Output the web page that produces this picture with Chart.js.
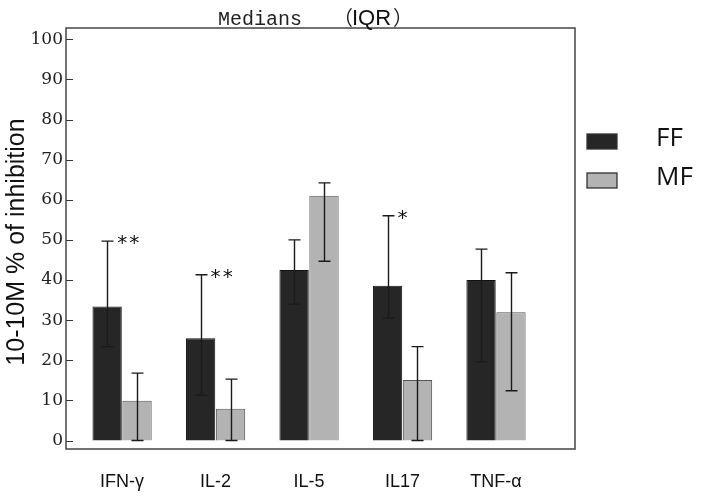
<!DOCTYPE html>
<html>
<head>
<meta charset="utf-8">
<script src="https://cdn.jsdelivr.net/npm/chart.js@4/dist/chart.umd.min.js"></script>
<style>
  body { margin: 0; background: #fff; }
  #wrap { width: 702px; height: 500px; position: relative; }
</style>
</head>
<body>
<div id="wrap"><canvas id="chart"></canvas></div>
<script>
// data
const categories = ["IFN-γ", "IL-2", "IL-5", "IL17", "TNF-α"];
const ffMedian = [33.4, 25.5, 42.5, 38.6, 40.0];
const ffLow    = [23.4, 11.3, 34.0, 30.5, 19.6];
const ffHigh   = [49.7, 41.3, 50.0, 56.0, 47.7];
const mfMedian = [9.9, 7.9, 61.0, 15.1, 32.0];
const mfLow    = [0, 0, 44.7, 0, 12.4];
const mfHigh   = [16.8, 15.3, 64.2, 23.4, 41.8];
const stars    = ["**", "**", "", "*", ""];
const yTicks   = [0, 10, 20, 30, 40, 50, 60, 70, 80, 90, 100];

const toPoints = arr => arr.map((v, i) => ({ x: i, y: v }));

// error bars, stars, frame, legend and titles
const extras = {
  id: "extras",
  afterDatasetsDraw(chart) {
    const ctx = chart.ctx;
    const yS = chart.scales.y;
    const area = chart.chartArea;
    ctx.save();

    // whiskers
    ctx.strokeStyle = "#1a1a1a";
    ctx.lineWidth = 1.4;
    chart.data.datasets.forEach((ds, di) => {
      const meta = chart.getDatasetMeta(di);
      meta.data.forEach((bar, i) => {
        const x = Math.round(bar.x) + 0.5;
        const top = yS.getPixelForValue(ds.high[i]);
        const bot = yS.getPixelForValue(ds.low[i]);
        ctx.beginPath();
        ctx.moveTo(x, top); ctx.lineTo(x, bot);
        ctx.moveTo(x - 6, top); ctx.lineTo(x + 6, top);
        ctx.moveTo(x - 6, bot); ctx.lineTo(x + 6, bot);
        ctx.stroke();
      });
    });

    // significance marks next to the FF caps
    ctx.fillStyle = "#111";
    ctx.font = "20px 'DejaVu Sans Mono'";
    ctx.textBaseline = "alphabetic";
    const ffMeta = chart.getDatasetMeta(0);
    stars.forEach((s, i) => {
      if (!s) return;
      const bar = ffMeta.data[i];
      ctx.fillText(s, bar.x + 9, yS.getPixelForValue(ffHigh[i]) + 8);
    });

    // y ticks inside the frame
    ctx.strokeStyle = "#333";
    ctx.lineWidth = 1;
    yTicks.forEach(v => {
      const y = Math.round(yS.getPixelForValue(v)) + 0.5;
      ctx.beginPath();
      ctx.moveTo(area.left, y); ctx.lineTo(area.left + 7, y);
      ctx.stroke();
    });

    // frame
    ctx.strokeStyle = "#444";
    ctx.lineWidth = 1.5;
    ctx.strokeRect(area.left, area.top, area.right - area.left, area.bottom - area.top);

    // title
    ctx.fillStyle = "#222";
    ctx.textAlign = "left";
    ctx.textBaseline = "alphabetic";
    ctx.font = "20px 'Liberation Mono'";
    ctx.fillText("Medians", 218, 25);
    ctx.font = "20px 'Noto Sans CJK SC'";
    ctx.fillText("（", 333, 25);
    ctx.fillText("）", 393, 25);
    ctx.fillStyle = "#111";
    ctx.font = "22px 'Liberation Sans'";
    ctx.fillText("IQR", 352, 25);

    // y axis title
    ctx.save();
    ctx.translate(17, 242);
    ctx.rotate(-Math.PI / 2);
    ctx.textAlign = "center";
    ctx.textBaseline = "middle";
    ctx.font = "25px 'Liberation Sans'";
    ctx.fillStyle = "#111";
    ctx.fillText("10-10M % of inhibition", 0, 0);
    ctx.restore();

    // legend
    ctx.textAlign = "left";
    ctx.textBaseline = "middle";
    ctx.font = "26px 'Open Sans'";
    chart.data.datasets.forEach((ds, di) => {
      const y = 134 + di * 39;
      ctx.fillStyle = ds.backgroundColor;
      ctx.fillRect(587, y, 30, 15);
      ctx.strokeStyle = "#333";
      ctx.lineWidth = 1.3;
      ctx.strokeRect(587, y, 30, 15);
      ctx.fillStyle = "#111";
      ctx.fillText(ds.label, 656, y + 5);
    });

    ctx.restore();
  }
};

new Chart(document.getElementById("chart"), {
  type: "bar",
  data: {
    datasets: [
      { label: "FF", data: toPoints(ffMedian), low: ffLow, high: ffHigh,
        backgroundColor: "#262626", borderColor: "#111", borderWidth: 1 },
      { label: "MF", data: toPoints(mfMedian), low: mfLow, high: mfHigh,
        backgroundColor: "#b3b3b3", borderColor: "#555", borderWidth: 1 }
    ]
  },
  options: {
    responsive: true,
    maintainAspectRatio: false,
    animation: false,
    layout: { padding: { top: 28, right: 127, left: 0, bottom: 0 } },
    plugins: { legend: { display: false }, tooltip: { enabled: false } },
    categoryPercentage: 0.64,
    barPercentage: 0.98,
    scales: {
      x: {
        type: "linear",
        min: -0.6,
        max: 4.845,
        offset: false,
        grid: { display: false, drawTicks: false },
        border: { display: false },
        afterBuildTicks: s => { s.ticks = categories.map((c, i) => ({ value: i })); },
        afterFit: s => { s.height = 51; },
        ticks: {
          padding: 22,
          color: "#111",
          font: { family: "Liberation Sans", size: 18 },
          callback: v => categories[v]
        }
      },
      y: {
        min: -2.1,
        max: 102.8,
        grid: { display: false, drawTicks: false },
        border: { display: false },
        afterBuildTicks: s => { s.ticks = yTicks.map(v => ({ value: v })); },
        afterFit: s => { s.width = 66; },
        ticks: {
          padding: 3,
          color: "#222",
          font: { family: "DejaVu Serif", size: 17 }
        }
      }
    }
  },
  plugins: [extras]
});
</script>
</body>
</html>
